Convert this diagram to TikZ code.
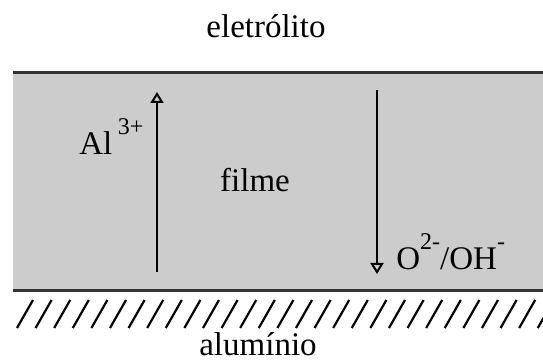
\documentclass[tikz,border=0pt]{standalone}
\usepackage{fontspec}
\setmainfont{Liberation Serif}
\usepackage{tikz}
\usetikzlibrary{arrows.meta}
\newcommand{\ionsup}[1]{\raisebox{0.62em}{\fontsize{12}{13}\selectfont #1}}
\tikzset{
  lbl/.style={font=\fontsize{16.5}{19}\selectfont, inner sep=0pt},
  migr/.style={line width=1pt, -{Triangle[open, length=5.5pt, width=6.5pt]}},
}
\begin{document}
\begin{tikzpicture}[x=0.5pt,y=0.5pt]
\useasboundingbox (0,0) rectangle (543,364);

% oxide film
\fill[black!20] (13,74) rectangle (543,290);
\draw[line width=1.5pt, black!80] (13,291) -- (543,291);
\draw[line width=1.5pt, black!80] (13,73) -- (543,73);

% metal surface hatching
\begin{scope}
  \clip (0,30) rectangle (543,70);
  \foreach \i in {0,...,28} {
    \draw[line width=1.1pt] (17+18.6*\i,36) -- ++(16,28);
  }
\end{scope}

% ion migration
\coordinate (alfrom) at (157,92);
\coordinate (alto) at (157,272);
\coordinate (ofrom) at (377,274);
\coordinate (oto) at (377,90);
\draw[migr] (alfrom) -- (alto);
\draw[migr] (ofrom) -- (oto);

% labels
\node[lbl, anchor=base west] (al) at (79,209) {Al\,\ionsup{3+}};
\node[lbl, anchor=base] (filme) at (255,172) {filme};
\node[lbl, anchor=base west] (oh) at (396,94) {O\ionsup{2-}/OH\ionsup{-}};
\node[lbl, anchor=base] (eletr) at (266,326) {eletrólito};
\node[lbl, anchor=base] (alum) at (258,8) {alumínio};

\end{tikzpicture}
\end{document}
